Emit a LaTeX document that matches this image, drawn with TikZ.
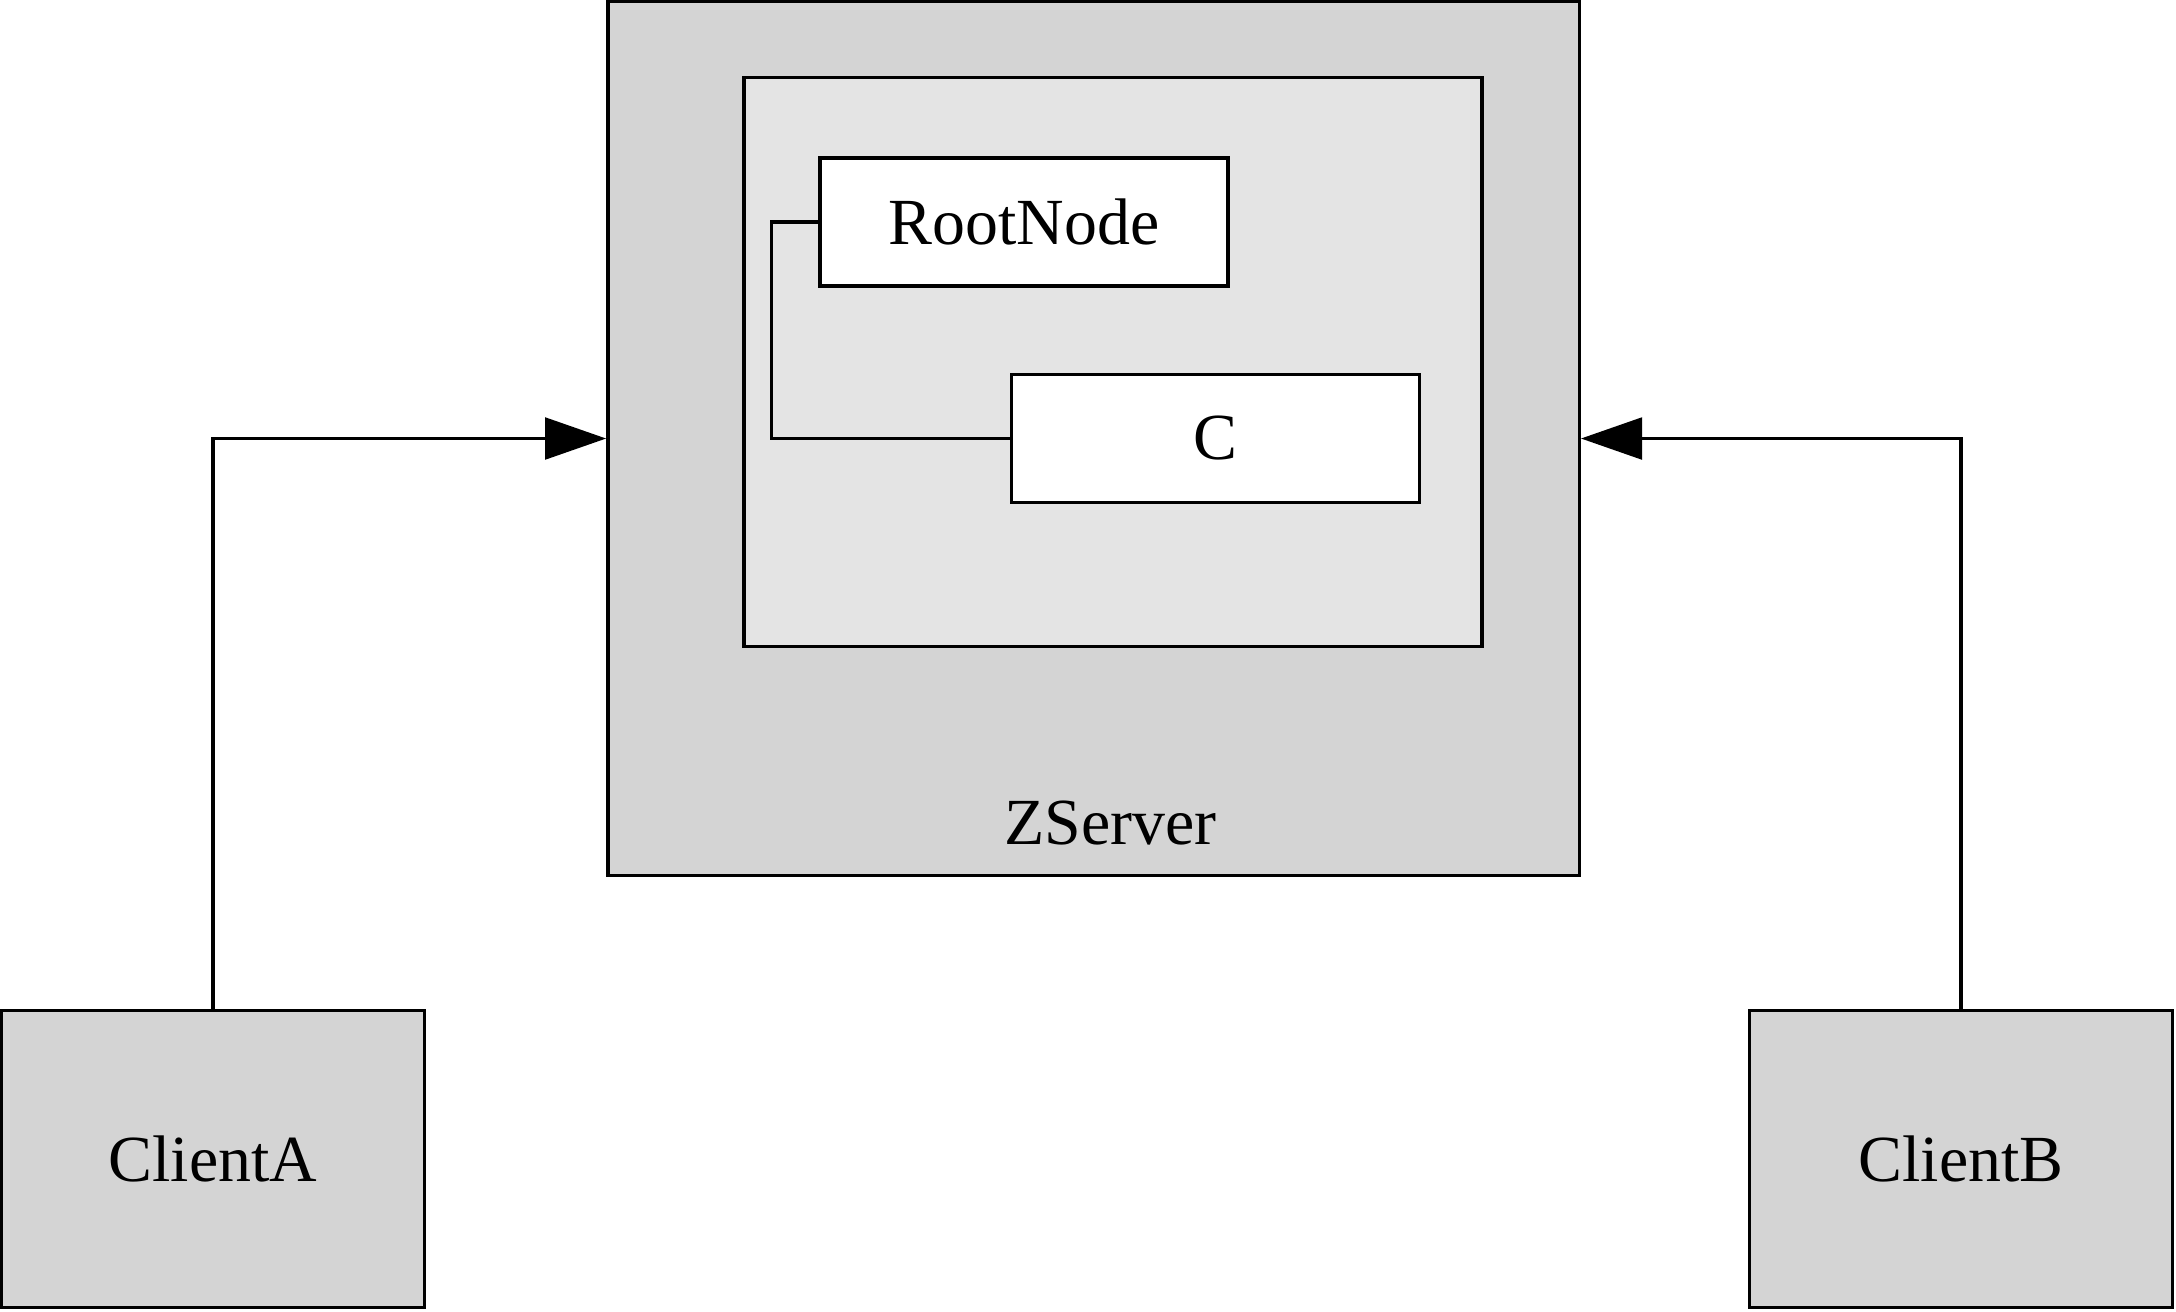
\documentclass[tikz,border=0pt]{standalone}
\usepackage{fontspec}
\setmainfont{Liberation Serif}
\usepackage{tikz}
\usetikzlibrary{arrows.meta, positioning}
\definecolor{outergray}{HTML}{D4D4D4}
\definecolor{innergray}{HTML}{E4E4E4}
\tikzstyle{box} = [rectangle, draw=black, line width=0.7pt, inner sep=0pt, text centered, font=\fontsize{13.5}{16}\selectfont]
\tikzstyle{server} = [box, fill=outergray, minimum width=7cm, minimum height=6.3cm]
\tikzstyle{store} = [box, fill=innergray, minimum width=5.32cm, minimum height=4.1cm]
\tikzstyle{znode} = [box, fill=white, minimum width=2.94cm, minimum height=0.92cm]
\tikzstyle{client} = [box, fill=outergray, minimum width=3.05cm, minimum height=2.14cm]
\tikzstyle{arrow} = [line width=0.7pt, -{Triangle[length=0.44cm, width=0.3cm]}]
\tikzstyle{link} = [line width=0.7pt]

\begin{document}
\begin{tikzpicture}
      \useasboundingbox (0,0) rectangle (15.68,-9.45);
      \node (zserver)  [server]  at (7.88,-3.16)   {};
      \node (zlabel)   [font=\fontsize{13.5}{16}\selectfont] at (8.00,-5.93) {ZServer};
      \node (store)    [store]   at (8.02,-2.61)   {};
      \node (root)     [znode]   at (7.38,-1.60)   {RootNode};
      \node (cnode)    [znode]   at (8.76,-3.16)   {C};

      \node (clienta)  [client]  at (1.535,-8.35)  {ClientA};
      \node (clientb)  [client]  at (14.13,-8.35)  {ClientB};

      \draw [link]  (root.west) -- ++(-0.34,0) |- (cnode.west);
      \draw [arrow] (clienta.north) |- (zserver.west);
      \draw [arrow] (clientb.north) |- (zserver.east);
\end{tikzpicture}
\end{document}
